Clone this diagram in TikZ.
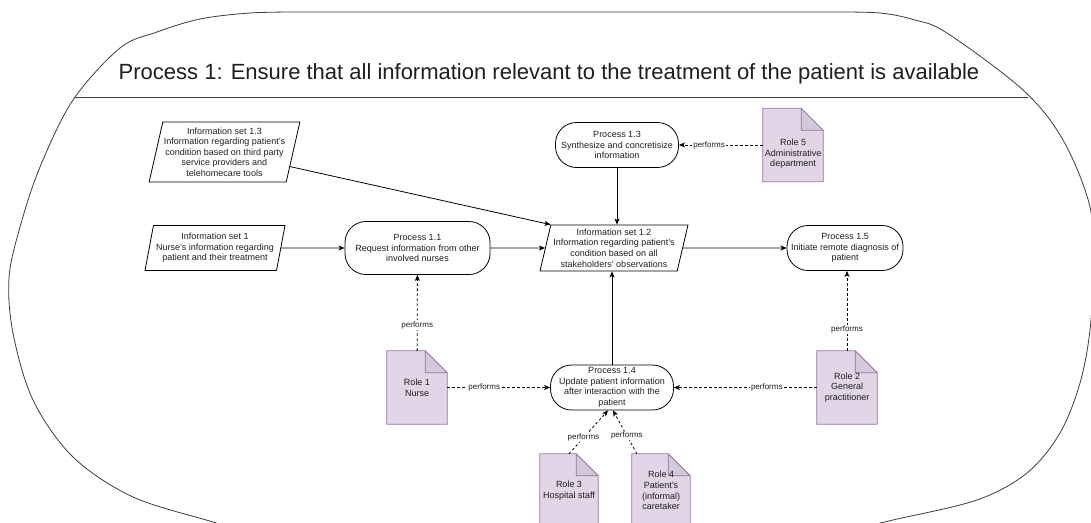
\documentclass[tikz,border=0pt]{standalone}
\usepackage{fontspec}
\setmainfont{Liberation Sans}
\usetikzlibrary{shapes.geometric,arrows.meta,backgrounds}
\definecolor{rolefill}{HTML}{E1D5E7}
\definecolor{rolestroke}{HTML}{9673A6}
\definecolor{foldfill}{RGB}{212,200,219}
\definecolor{txt}{RGB}{30,30,30}
\definecolor{outerline}{RGB}{60,60,60}
\tikzset{
  base/.style={font=\fontsize{9}{10.6}\selectfont, text=txt, align=center, inner sep=1pt},
  proc/.style={base, draw=black, line width=0.8pt, rounded corners=21pt, minimum height=45pt},
  info/.style={base, draw=black, line width=0.8pt, trapezium, trapezium left angle=75,
    trapezium right angle=105, trapezium stretches body=true, minimum height=45pt},
  role/.style={base, minimum width=60pt, minimum height=73pt},
  arr/.style={draw=black, line width=0.8pt, -{Stealth[length=6pt,width=5pt,inset=1.5pt]}},
  darr/.style={arr, dash pattern=on 2.5pt off 2.5pt},
  lbl/.style={font=\fontsize{8}{9}\selectfont, text=txt, fill=white, inner sep=1pt},
  outer/.style={draw=outerline, line width=0.8pt}
}
\begin{document}
\begin{tikzpicture}[x=1pt,y=-1pt]
\useasboundingbox (0,0) rectangle (1091,522);

% outer container
\draw[outer] plot[smooth, tension=0.55] coordinates {(240,531) (213,522) (133,497) (73,457) (33,400) (13,333) (9,278) (20,227) (40,167) (73,100) (120,48) (157,32) (200,19) (250,13) (300,12)}
  -- (830,12)
  -- plot[smooth, tension=0.55] coordinates {(830,12) (880,13) (915,20) (947,33) (1023,90) (1063,140) (1090,207) (1093,270) (1090,330) (1080,383) (1060,433) (1027,473) (977,500) (893,520) (860,528)};
\draw[outer] (75,97.5) -- (1028,97.5);
\node[font=\fontsize{22}{26}\selectfont, text=txt, inner sep=0pt] (title) at (549,74) {Process 1: Ensure that all information relevant to the treatment of the patient is available};

% information sets and processes
\node[info, minimum width=135pt, minimum height=60pt] (i13) at (224.5,152) {Information set 1.3\\Information regarding patient's\\condition based on third party\\service providers and\\telehomecare tools};
\node[info, minimum width=140pt] (i1) at (215,248) {Information set 1\\Nurse's information regarding\\patient and their treatment};
\node[proc, minimum width=145pt, minimum height=53pt] (p11) at (417.5,248) {Process 1.1\\Request information from other\\involved nurses};
\node[proc, minimum width=123pt] (p13) at (617,145) {Process 1.3\\Synthesize and concretisize\\information};
\node[info, minimum width=148pt, minimum height=46pt] (i12) at (614,248) {Information set 1.2\\Information regarding patient's\\condition based on all\\stakeholders' observations};
\node[proc, minimum width=116pt] (p15) at (845,248) {Process 1.5\\Initiate remote diagnosis of\\patient};
\node[proc, minimum width=123pt] (p14) at (612,387.5) {Process 1.4\\Update patient information\\after interaction with the\\patient};

% roles
\node[role] (r1) at (417,387.5) {Role 1\\Nurse};
\node[role] (r2) at (847,387.5) {Role 2\\General\\practitioner};
\node[role, minimum width=58pt] (r3) at (569,490.5) {Role 3\\Hospital staff};
\node[role, minimum width=58pt] (r4) at (661,490.5) {Role 4\\Patient's\\(informal)\\caretaker};
\node[role] (r5) at (793,145) {};
\node[base] (r5t) at (793,154) {Role 5\\Administrative\\department};

\begin{pgfonlayer}{background}
\foreach \r in {r1,r2,r3,r4,r5}{
  \filldraw[fill=rolefill, draw=rolestroke, line width=0.8pt]
    (\r.north west) -- ([xshift=-22pt]\r.north east) -- ([yshift=-22pt]\r.north east)
    -- (\r.south east) -- (\r.south west) -- cycle;
  \filldraw[fill=foldfill, draw=rolestroke, line width=0.8pt, line join=round]
    ([xshift=-22pt]\r.north east) -- ([xshift=-22pt,yshift=-22pt]\r.north east)
    -- ([yshift=-22pt]\r.north east) -- cycle;
}
\end{pgfonlayer}

% solid connectors
\draw[arr] (i1) -- (p11);
\draw[arr] (p11) -- (i12);
\draw[arr] (i13) -- (i12.top left corner);
\draw[arr] (p13) -- (p13 |- i12.north);
\draw[arr] (p14) -- (p14 |- i12.south);
\draw[arr] (i12) -- (p15);

% dashed "performs" connectors
\draw[darr] (r5) -- node[lbl, pos=0.64] {performs} (p13);
\draw[darr] (r1) -- node[lbl, pos=0.34] {performs} (p11);
\draw[darr] (r1) -- node[lbl, pos=0.36] {performs} (p14);
\draw[darr] (r2) -- node[lbl, pos=0.35] {performs} (p14);
\draw[darr] (r2.north) -- node[lbl, pos=0.27] {performs} (r2.north |- p15.south);
\draw[darr] (r3.north) -- node[lbl, pos=0.37] {performs} ([xshift=-4pt]p14.south);
\draw[darr] ([xshift=5pt]r4.north west) -- node[lbl, pos=0.42] {performs} ([xshift=1pt]p14.south);
\end{tikzpicture}
\end{document}
